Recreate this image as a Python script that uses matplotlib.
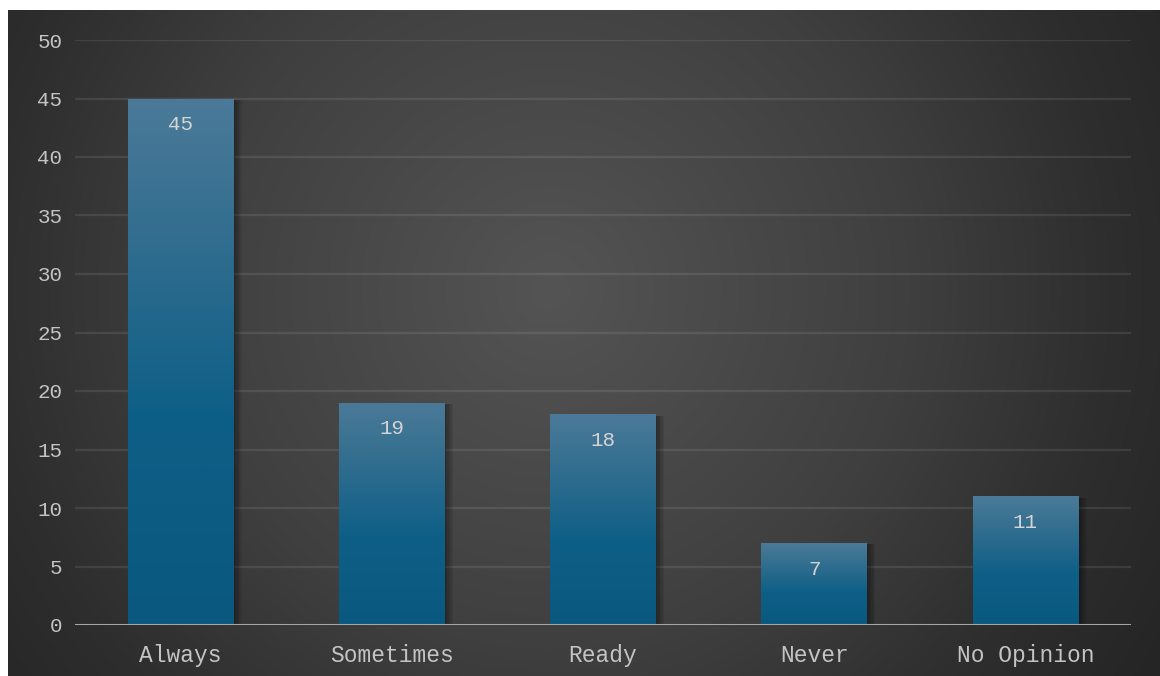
import numpy as np
import matplotlib.pyplot as plt
from matplotlib import patheffects
from matplotlib.colors import LinearSegmentedColormap

categories = ['Always', 'Sometimes', 'Ready', 'Never', 'No Opinion']
counts = [45, 19, 18, 7, 11]
y_ticks = [0, 5, 10, 15, 20, 25, 30, 35, 40, 45, 50]

plt.rcParams['font.family'] = ['Liberation Mono', 'DejaVu Sans Mono']

W, H = 1160, 676
fig = plt.figure(figsize=(W / 100, H / 100), dpi=100, facecolor='white')

# фон с радиальным градиентом (в пикселях)
bg = fig.add_axes([8 / W, 0, (W - 8) / W, (H - 10) / H])
bg.set_axis_off()
yy, xx = np.mgrid[10:676:333j, 8:1160:576j]
r = np.sqrt((xx - 550) ** 2 + (yy - 290) ** 2)
bg_cmap = LinearSegmentedColormap.from_list(
    'bg', [(0.0, '#545454'), (360 / 720, '#3f3f3f'), (560 / 720, '#2e2e2e'), (1.0, '#252525')])
bg.imshow(r, cmap=bg_cmap, aspect='auto', vmin=0, vmax=720)

ax = fig.add_axes([75 / W, (H - 625) / H, (1131 - 75) / W, (625 - 40) / H])
ax.patch.set_alpha(0)

# мягкая тень справа от столбцов
shadow = [patheffects.SimplePatchShadow(offset=(k, -1), shadow_rgbFace='black', alpha=0.07)
          for k in range(1, 7)]
x = np.arange(len(categories))
bars = ax.bar(x, counts, width=0.5, color='#0b5a80', zorder=3,
              path_effects=shadow + [patheffects.Normal()])

# градиент внутри столбцов
bar_cmap = LinearSegmentedColormap.from_list(
    'bar', [(0.0, '#0a5880'), (0.4, '#0e5f87'), (0.7, '#2e6c8e'), (1.0, '#4b7a98')])
grad = np.linspace(0, 1, 256).reshape(-1, 1)
for b in bars:
    x0, w, h = b.get_x(), b.get_width(), b.get_height()
    im = ax.imshow(grad, cmap=bar_cmap, aspect='auto', origin='lower',
                   extent=[x0, x0 + w, 0, h], zorder=4)
    im.set_clip_path(b)

for xi, v in zip(x, counts):
    ax.annotate(str(v), (xi, v), xytext=(0, -26), textcoords='offset pixels',
                ha='center', va='center', color='#d4d4d4', fontsize=15, zorder=5)

ax.set_xlim(-0.5, len(categories) - 0.5)
ax.set_ylim(0, 50)
ax.set_yticks(y_ticks)
ax.set_xticks(x)
ax.set_xticklabels(categories)
ax.tick_params(axis='both', length=0, colors='#c4c4c4', labelsize=15)
ax.tick_params(axis='x', pad=14, labelsize=16.5)
ax.tick_params(axis='y', pad=9)
for s in ax.spines.values():
    s.set_visible(False)
for t in y_ticks[1:]:
    ax.axhline(t, color='white', alpha=0.09, lw=1.6, zorder=1)
ax.axhline(0, color='#a6a6a6', lw=2.2, zorder=6)

fig.savefig('out.png', dpi=100, facecolor='white')
